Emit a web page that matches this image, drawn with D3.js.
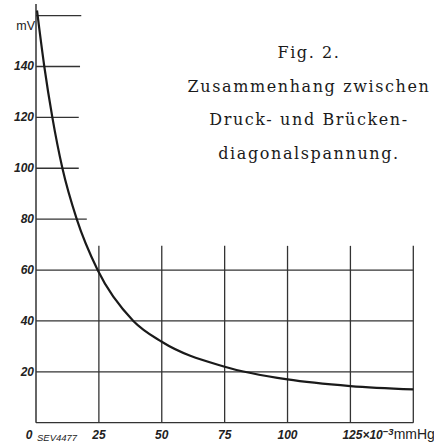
<!DOCTYPE html>
<html>
<head>
<meta charset="utf-8">
<script src="https://cdn.jsdelivr.net/npm/d3@7"></script>
<style>
  body { margin: 0; background: #fff; }
  .tick-label { font-family: "Liberation Sans", Arial, sans-serif; font-style: italic; font-weight: bold; font-size: 12px; fill: #222; }
  .title { font-family: "DejaVu Serif", serif; font-size: 16px; fill: #1a1a1a; letter-spacing: 1.6px; }
</style>
</head>
<body>
<div id="chart"></div>
<script>
// Druck (10^-3 mmHg) vs Brueckendiagonalspannung (mV)
const pressure = [0.4, 3.3, 6.5, 10.5, 16.2, 24.5, 38.7, 50, 75, 100, 125, 150];
const voltage  = [162, 140, 120, 100, 80, 60, 40, 31.8, 22, 17, 14.4, 13.1];

const yTicks = [20, 40, 60, 80, 100, 120, 140];
const xTicks = [25, 50, 75, 100];
const shortLines = [160, 140, 120, 100, 80];   // stubs near the axis
const shortEnds  = [18, 17.5, 17, 17, 20.2];   // where each stub ends (x units)
const fullLines = [0, 20, 40, 60];

const titleLines = ["Fig. 2.", "Zusammenhang zwischen", "Druck- und Brücken-", "diagonalspannung."];

const width = 434, height = 443;

const x = d3.scaleLinear().domain([0, 150]).range([36, 413.3]);
const y = d3.scaleLinear().domain([0, 160]).range([422.7, 15.6]);

const svg = d3.select("#chart")
    .append("svg")
    .attr("width", width)
    .attr("height", height);

const grid = svg.append("g")
    .attr("stroke", "#333")
    .attr("stroke-width", 1.3);

// horizontal full grid lines
grid.selectAll("line.h")
    .data(fullLines)
    .enter()
    .append("line")
    .attr("x1", x(0))
    .attr("x2", x(150))
    .attr("y1", d => y(d))
    .attr("y2", d => y(d));

// short stubs in the upper part
grid.selectAll("line.s")
    .data(shortLines)
    .enter()
    .append("line")
    .attr("x1", x(0))
    .attr("x2", (d, i) => x(shortEnds[i]))
    .attr("y1", d => y(d))
    .attr("y2", d => y(d));

// vertical grid lines (reach a little above 60)
grid.selectAll("line.v")
    .data(xTicks.concat([125, 150]))
    .enter()
    .append("line")
    .attr("x1", d => x(d))
    .attr("x2", d => x(d))
    .attr("y1", y(0))
    .attr("y2", y(69.5));

// y axis
grid.append("line")
    .attr("x1", x(0)).attr("x2", x(0))
    .attr("y1", y(0)).attr("y2", 4)
    .attr("stroke-width", 1.5);

// y tick labels
svg.selectAll("text.yl")
    .data(yTicks)
    .enter()
    .append("text")
    .attr("class", "tick-label")
    .attr("x", x(0) - 2)
    .attr("y", d => y(d) + 4)
    .attr("text-anchor", "end")
    .text(d => d);

svg.append("text")
    .attr("class", "tick-label")
    .attr("x", x(0) - 1)
    .attr("y", 30)
    .attr("text-anchor", "end")
    .style("font-style", "normal")
    .style("font-weight", "normal")
    .style("font-size", "12.5px")
    .text("mV");

// x tick labels
svg.selectAll("text.xl")
    .data(xTicks)
    .enter()
    .append("text")
    .attr("class", "tick-label")
    .attr("x", d => x(d))
    .attr("y", 439)
    .attr("text-anchor", "middle")
    .text(d => d);

svg.append("text")
    .attr("class", "tick-label")
    .attr("x", x(0) - 7)
    .attr("y", 439)
    .attr("text-anchor", "middle")
    .text("0");

svg.append("text")
    .attr("class", "tick-label")
    .attr("x", 37)
    .attr("y", 441)
    .style("font-size", "9.5px")
    .style("font-weight", "normal")
    .text("SEV4477");

const unit = svg.append("text")
    .attr("class", "tick-label")
    .attr("x", x(125) - 8)
    .attr("y", 439);
unit.append("tspan").text("125×10");
unit.append("tspan").attr("dy", -4).style("font-size", "9.5px").text("−3");
unit.append("tspan").attr("dy", 4).style("font-style", "normal").style("font-weight", "normal").style("font-size", "14px").text("mmHg");

// curve
const line = d3.line()
    .x((d, i) => x(d))
    .y((d, i) => y(voltage[i]))
    .curve(d3.curveMonotoneX);

svg.append("path")
    .datum(pressure)
    .attr("d", line)
    .attr("fill", "none")
    .attr("stroke", "#1a1a1a")
    .attr("stroke-width", 2.2);

// title block
svg.selectAll("text.title")
    .data(titleLines)
    .enter()
    .append("text")
    .attr("class", "title")
    .attr("x", 309)
    .attr("y", (d, i) => 58 + i * 33.7)
    .attr("text-anchor", "middle")
    .text(d => d);
</script>
</body>
</html>
